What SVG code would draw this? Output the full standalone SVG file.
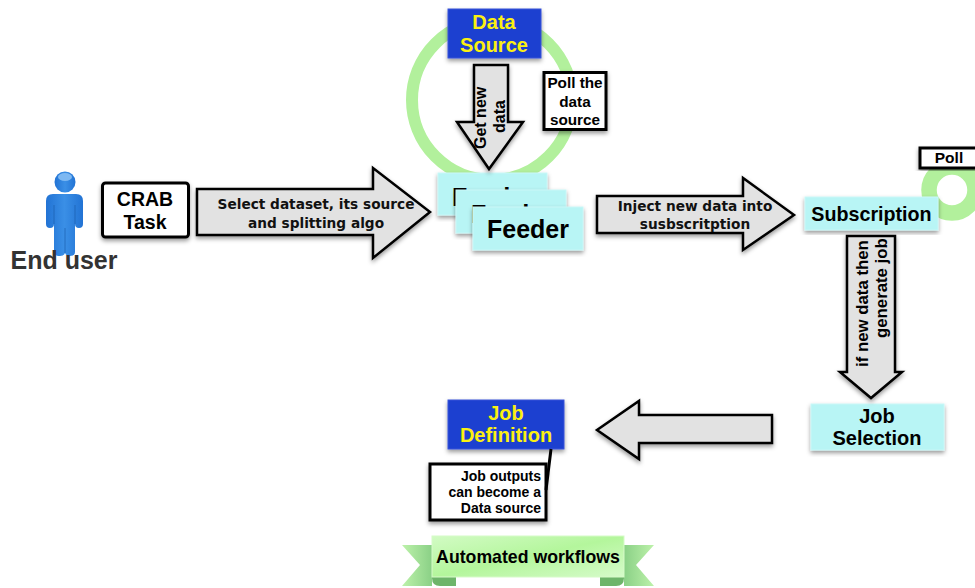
<svg xmlns="http://www.w3.org/2000/svg" width="975" height="588" viewBox="0 0 975 588">
<style>
text{font-family:"Liberation Sans",Arial,sans-serif;font-weight:700;text-anchor:middle;fill:#000}
.wide{font-family:"DejaVu Sans",Verdana,sans-serif;font-size:13.700px;fill:#111}
.arrow{fill:#e2e2e2;stroke:#000;stroke-width:2.500;stroke-linejoin:miter;filter:url(#sh)}
.cyan{fill:#b8f5f5;stroke:#c9f7f7;stroke-width:1;filter:url(#sh)}
.blue{fill:#1f3fd0;stroke:#3a55d8;stroke-width:1;filter:url(#sh)}
.yel{fill:#fbf010;font-size:20px}
.note{fill:#fff;stroke:#000;stroke-width:3;filter:url(#sh)}
.ring{fill:none;stroke:#b2f09c}
.end{text-anchor:end}
.start{text-anchor:start}
</style>
<defs>
<filter id="sh" x="-15%" y="-15%" width="130%" height="130%"><feDropShadow dx="0" dy="2.500" stdDeviation="2" flood-color="#000" flood-opacity=".4"/></filter>
<linearGradient id="rib" x1="0" y1="0" x2="1" y2="1"><stop offset="0" stop-color="#d2fbc4"/><stop offset=".5" stop-color="#b4f69c"/><stop offset="1" stop-color="#d6fbca"/></linearGradient>
<linearGradient id="tailL" x1="0" x2="1" y1="0" y2="0"><stop offset="0" stop-color="#bdf2aa"/><stop offset="1" stop-color="#8ad086"/></linearGradient>
<linearGradient id="tailR" x1="1" x2="0" y1="0" y2="0"><stop offset="0" stop-color="#bdf2aa"/><stop offset="1" stop-color="#8ad086"/></linearGradient>
<linearGradient id="person" x1="0" x2="1" y1="0" y2="0"><stop offset="0" stop-color="#2273d4"/><stop offset=".5" stop-color="#3a8fe6"/><stop offset="1" stop-color="#2273d4"/></linearGradient>
</defs>

<g id="ring-data-source"><circle class="ring" cx="492" cy="100" r="80" stroke-width="12"/></g>
<g id="ring-poll"><circle class="ring" cx="952" cy="190" r="23" stroke-width="15.500"/></g>

<g id="end-user">
<circle cx="65" cy="182" r="10.500" fill="url(#person)"/>
<ellipse cx="65" cy="177" rx="7" ry="4" fill="#7db8f2"/>
<path d="M53 194H76Q83 194 83 201V224Q83 228 79 228Q75 228 75 224V252Q75 256 70 256Q66 256 65 253Q64 256 60 256Q54 256 54 252V224Q54 228 50 228Q46 228 46 224V201Q46 194 53 194Z" fill="url(#person)"/>
<path d="M54 205V224M75 205V224M65 228V253" stroke="#1a5fb0" stroke-width=".7" fill="none"/>
<text x="64" y="269" font-size="25" style="fill:#333">End user</text>
</g>

<g id="crab-task">
<rect class="note" x="102.500" y="183" width="86" height="54" rx="3"/>
<text x="145" y="206" font-size="19.500">CRAB</text>
<text x="145" y="229" font-size="19.500">Task</text>
</g>

<g id="feeder-1"><rect class="cyan" x="438" y="173" width="109" height="42"/><text x="493" y="206" font-size="25">Feeder</text></g>
<g id="feeder-2"><rect class="cyan" x="456" y="190" width="110" height="43"/><text x="512" y="223" font-size="25">Feeder</text></g>
<g id="feeder-3"><rect class="cyan" x="473" y="207" width="110" height="43"/><text x="528" y="238" font-size="25">Feeder</text></g>

<g id="data-source">
<rect class="blue" x="448" y="9" width="93" height="49"/>
<text class="yel" x="494" y="29">Data</text>
<text class="yel" x="494" y="52">Source</text>
</g>

<g id="poll-data-source">
<rect class="note" x="544" y="72.500" width="62" height="57"/>
<text x="575" y="88" font-size="15.300">Poll the</text>
<text x="575" y="107" font-size="15.300">data</text>
<text x="575" y="125" font-size="15.300">source</text>
</g>

<g id="poll">
<rect class="note" x="920" y="148" width="60" height="20"/>
<text x="949" y="163" font-size="15.500">Poll</text>
</g>

<g id="subscription"><rect class="cyan" x="805" y="197" width="133" height="33"/><text x="871.500" y="221" font-size="19.700">Subscription</text></g>

<g id="job-selection">
<rect class="cyan" x="811" y="404" width="133" height="46"/>
<text x="877" y="423" font-size="20">Job</text>
<text x="877" y="445" font-size="20">Selection</text>
</g>

<g id="job-definition">
<rect class="blue" x="448" y="400" width="116" height="49"/>
<text class="yel" x="506" y="420">Job</text>
<text class="yel" x="506" y="442">Definition</text>
</g>

<g id="job-outputs">
<rect class="note" x="430" y="464" width="116" height="56"/>
<text class="end" x="541" y="481" font-size="14">Job outputs</text>
<text class="end" x="541" y="497" font-size="14">can become a</text>
<text class="end" x="541" y="513" font-size="14">Data source</text>
</g>

<g id="automated-workflows">
<path d="M402 545H432V586H402L420 565Z" fill="url(#tailL)"/>
<path d="M654 545H624V586H654L636 565Z" fill="url(#tailR)"/>
<path d="M432 575H456V586H440Q432 586 432 578Z" fill="#6eb56a"/>
<path d="M624 575H600V586H616Q624 586 624 578Z" fill="#6eb56a"/>
<rect x="432" y="536" width="192" height="41" fill="url(#rib)" stroke="#d6fbc8"/>
<text x="528" y="563" font-size="17.700">Automated workflows</text>
</g>

<g id="connectors">
<polygon class="arrow" points="197,189 373,189 373,168 430,212 373,258 373,235 197,235"/>
<text class="wide" x="316" y="209">Select dataset, its source</text>
<text class="wide" x="316" y="228">and splitting algo</text>

<polygon class="arrow" points="474,65 508,65 508,122 523,122 489,169 457,122 474,122"/>
<text class="start" font-size="16" transform="translate(486,149) rotate(-90)">Get new</text>
<text class="start" font-size="16" transform="translate(505,133) rotate(-90)">data</text>

<polygon class="arrow" points="597,196 743,196 743,178 794,215 743,250 743,233 597,233"/>
<text class="wide" x="695" y="211">Inject new data into</text>
<text class="wide" x="695" y="229">susbscritption</text>

<polygon class="arrow" points="847,236 895,236 895,372 902,372 871,398 840,372 847,372"/>
<text class="start" font-size="16.800" transform="translate(868,367) rotate(-90)">if new data then</text>
<text class="start" font-size="16.800" transform="translate(887,338) rotate(-90)">generate job</text>

<polygon class="arrow" points="772,415 639,415 639,401 597,430 639,459 639,443 772,443"/>

<line x1="551" y1="449" x2="546" y2="490" stroke="#000" stroke-width="3"/>
</g>
</svg>
